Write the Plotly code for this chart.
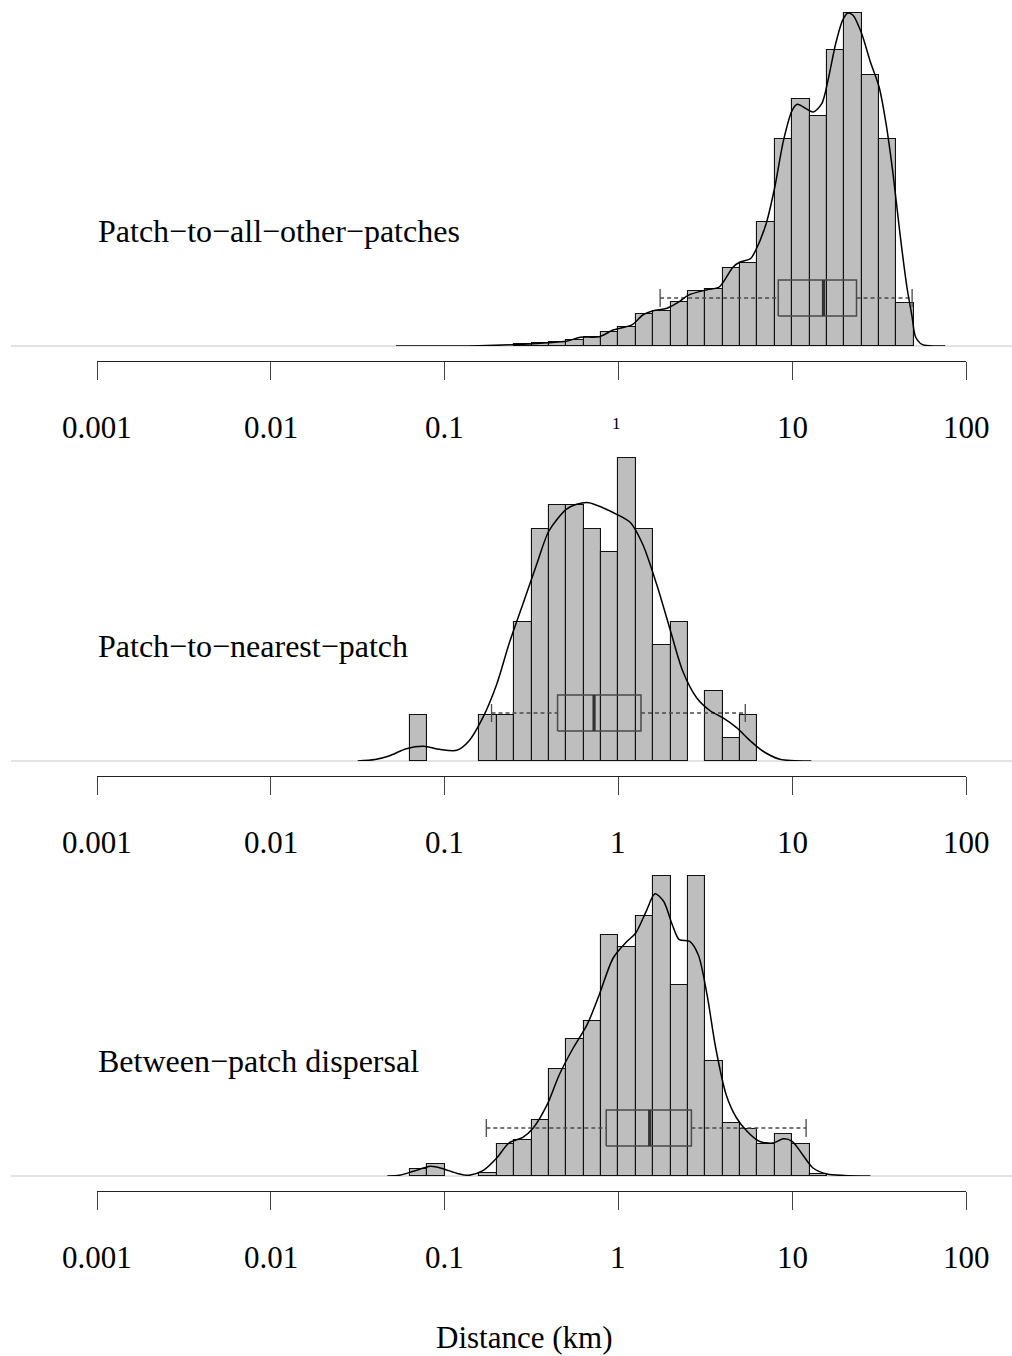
import plotly.graph_objects as go

# ---------------- data (x in log10 km; heights are relative frequencies) ----------------
BIN_WIDTH = 0.1

p1_first_bin = -0.6
p1_heights = [1.7, 3.3, 4.0, 6.0, 9.3, 14.0, 18.7, 32.3, 35.0, 44.0, 54.7, 57.3, 77.7, 83.3,
              123.7, 206.7, 246.7, 229.7, 296.3, 333.0, 271.3, 206.7, 43.0]

p2_first_bin = -1.2
p2_heights = [46, 0, 0, 0, 46, 46, 139, 232.3, 255.7, 255.7, 232.3, 209, 302.7, 232.3, 116, 139,
              0, 69.7, 22.7, 46]

p3_first_bin = -1.2
p3_heights = [7.3, 12.3, 0, 0, 3, 32, 36.3, 55.7, 107.3, 137.3, 155.3, 241, 229, 260, 300.3, 191,
              300.3, 114.7, 53, 47.3, 31.7, 42.3, 31.7, 1.7]

p1_dens_x = [-1.28, -0.80, -0.61, -0.41, -0.30, -0.22, -0.11, -0.03, 0.08, 0.14, 0.20, 0.28, 0.35,
             0.40, 0.51, 0.58, 0.66, 0.70, 0.76, 0.79, 0.85, 0.90, 0.95, 1.00, 1.03, 1.08, 1.12,
             1.17, 1.21, 1.25, 1.29, 1.32, 1.35, 1.40, 1.45, 1.50, 1.54, 1.58, 1.62, 1.66, 1.69,
             1.71, 1.75, 1.83, 1.88]
p1_dens_y = [0, 0.3, 1.3, 3.3, 4.7, 8.7, 9.3, 16, 21.3, 31, 35.3, 37.7, 44.3, 50.7, 56.3, 59, 79,
             84, 87.3, 95.7, 122.3, 159, 205.7, 235.7, 241.7, 237.3, 234, 242.3, 269, 302.3, 325.7,
             333, 330.7, 312.3, 284, 259, 222.3, 172.3, 112.3, 59, 29, 9, 1.3, 0, 0]

p2_dens_x = [-1.50, -1.40, -1.32, -1.22, -1.12, -1.03, -0.93, -0.86, -0.78, -0.70, -0.63, -0.55,
             -0.47, -0.40, -0.30, -0.24, -0.17, -0.09, -0.01, 0.07, 0.14, 0.22, 0.30, 0.37, 0.45,
             0.53, 0.60, 0.68, 0.76, 0.83, 0.93, 1.11]
p2_dens_y = [0, 1.5, 5, 12.3, 14.7, 11.7, 10.7, 20, 43.3, 76.7, 116.7, 156.7, 196.7, 230, 251.7,
             256.7, 258.3, 253.3, 246.7, 238.3, 216.7, 176.7, 130, 90, 63.3, 50, 43.3, 33.3, 20,
             10, 1.7, 0]

p3_dens_x = [-1.33, -1.26, -1.18, -1.08, -1.01, -0.93, -0.86, -0.78, -0.70, -0.63, -0.55, -0.49,
             -0.41, -0.34, -0.26, -0.18, -0.11, -0.03, 0.05, 0.10, 0.16, 0.21, 0.26, 0.31, 0.35,
             0.41, 0.46, 0.51, 0.56, 0.62, 0.68, 0.74, 0.81, 0.89, 0.95, 1.00, 1.06, 1.12, 1.20,
             1.30, 1.45]
p3_dens_y = [0, 0.7, 4.7, 9.7, 7.3, 2.7, 0.7, 5.3, 18, 33, 38.7, 48, 71.3, 101.3, 128, 151.3, 181.3,
             218, 234.7, 243, 264.7, 282.3, 274.7, 251.3, 236.3, 234.7, 221, 181.3, 128, 81.3, 58,
             44.7, 34.7, 33, 37.3, 34.7, 21.3, 8, 2, 0.5, 0]

# five-number summaries (log10 km): lower whisker, q1, median, q3, upper whisker
p1_box = [0.24, 0.92, 1.18, 1.37, 1.69]
p2_box = [-0.73, -0.35, -0.14, 0.13, 0.73]
p3_box = [-0.76, -0.07, 0.18, 0.42, 1.08]

panel_labels = ["Patch\u2212to\u2212all\u2212other\u2212patches",
                "Patch\u2212to\u2212nearest\u2212patch",
                "Between\u2212patch dispersal"]
tick_vals = [-3, -2, -1, 0, 1, 2]
tick_text = ["0.001", "0.01", "0.1", "1", "10", "100"]
x_title = "Distance (km)"

# ---------------- layout helpers ----------------
W, H = 1012, 1356
FONT = "Liberation Serif"
X0_PX, X1_PX = 97, 966
PANEL_SHIFT = 415
BASE_PX = 346      # baseline of first panel
AXIS_PX = 361      # axis line of first panel
PLOT_H = 346       # plot height (px) above baseline
TICKLAB_PX = 427
LABEL_PX = 231


def yp(px):
    return 1 - px / H


panels = [
    (p1_first_bin, p1_heights, p1_dens_x, p1_dens_y, p1_box),
    (p2_first_bin, p2_heights, p2_dens_x, p2_dens_y, p2_box),
    (p3_first_bin, p3_heights, p3_dens_x, p3_dens_y, p3_box),
]

fig = go.Figure()
annotations = []
shapes = []
BOX_C, BOX_HALF, STAPLE_HALF = 48, 18, 9
box_col = "#4a4a4a"

for i, (first, heights, dx, dy, box) in enumerate(panels):
    k = "" if i == 0 else str(i + 1)
    xa, ya = "x" + k, "y" + k
    off = i * PANEL_SHIFT
    base = BASE_PX + off

    centers = [first + BIN_WIDTH * (j + 0.5) for j in range(len(heights))]
    bx = [c for c, h in zip(centers, heights) if h > 0]
    by = [h for h in heights if h > 0]
    fig.add_trace(go.Bar(x=bx, y=by, width=BIN_WIDTH, xaxis=xa, yaxis=ya,
                         marker=dict(color="#bebebe", line=dict(color="#111111", width=1.1)),
                         showlegend=False, hoverinfo="skip"))

    lo, q1, med, q3, hi = box
    # dashed whiskers
    for a, b in [(lo, q1), (q3, hi)]:
        fig.add_trace(go.Scatter(x=[a, b], y=[BOX_C, BOX_C], mode="lines", xaxis=xa, yaxis=ya,
                                 line=dict(color=box_col, width=1.3, dash="4px,3px"),
                                 showlegend=False, hoverinfo="skip"))
    # staples
    for v in (lo, hi):
        fig.add_trace(go.Scatter(x=[v, v], y=[BOX_C - STAPLE_HALF, BOX_C + STAPLE_HALF],
                                 mode="lines", xaxis=xa, yaxis=ya,
                                 line=dict(color=box_col, width=1.3),
                                 showlegend=False, hoverinfo="skip"))
    # box
    fig.add_trace(go.Scatter(x=[q1, q3, q3, q1, q1],
                             y=[BOX_C - BOX_HALF, BOX_C - BOX_HALF, BOX_C + BOX_HALF,
                                BOX_C + BOX_HALF, BOX_C - BOX_HALF],
                             mode="lines", xaxis=xa, yaxis=ya,
                             line=dict(color=box_col, width=1.5),
                             showlegend=False, hoverinfo="skip"))
    # median
    fig.add_trace(go.Scatter(x=[med, med], y=[BOX_C - BOX_HALF, BOX_C + BOX_HALF],
                             mode="lines", xaxis=xa, yaxis=ya,
                             line=dict(color="#333333", width=3.2),
                             showlegend=False, hoverinfo="skip"))
    # density curve
    fig.add_trace(go.Scatter(x=dx, y=dy, mode="lines", xaxis=xa, yaxis=ya,
                             line=dict(color="black", width=1.5, shape="spline", smoothing=0.8),
                             showlegend=False, hoverinfo="skip"))

    dom = [X0_PX / W, X1_PX / W]
    fig.layout["xaxis" + k] = dict(
        domain=dom, range=[-3, 2], anchor="free", position=yp(AXIS_PX + off),
        showline=True, linecolor="#222222", linewidth=1, mirror=False,
        ticks="outside", ticklen=18, tickwidth=1, tickcolor="#444444",
        tickvals=tick_vals, showticklabels=False, showgrid=False, zeroline=False,
        fixedrange=True)
    fig.layout["yaxis" + k] = dict(
        domain=[yp(base), yp(base - PLOT_H)], range=[0, PLOT_H], visible=False,
        showgrid=False, zeroline=False, fixedrange=True)

    # gray baseline
    shapes.append(dict(type="line", xref="paper", yref="paper", x0=11 / W, x1=1.0,
                       y0=yp(base), y1=yp(base), line=dict(color="#c8c8c8", width=1.2),
                       layer="below"))

    # tick labels
    for v, t in zip(tick_vals, tick_text):
        if i == 0 and t == "1":
            annotations.append(dict(x=v - 0.01, y=yp(TICKLAB_PX - 3 + off), xref=xa, yref="paper",
                                    text=t, showarrow=False, xanchor="center", yanchor="middle",
                                    font=dict(family=FONT, size=17, color="black")))
        else:
            annotations.append(dict(x=v, y=yp(TICKLAB_PX + off), xref=xa, yref="paper", text=t,
                                    showarrow=False, xanchor="center", yanchor="middle",
                                    font=dict(family=FONT, size=31, color="black")))

    # panel label
    annotations.append(dict(x=96 / W, y=yp(LABEL_PX + off), xref="paper", yref="paper",
                            text=panel_labels[i], showarrow=False, xanchor="left",
                            yanchor="middle", font=dict(family=FONT, size=32, color="black")))

annotations.append(dict(x=524 / W, y=yp(1337), xref="paper", yref="paper", text=x_title,
                        showarrow=False, xanchor="center", yanchor="middle",
                        font=dict(family=FONT, size=31, color="black")))

fig.update_layout(width=W, height=H, margin=dict(l=0, r=0, t=0, b=0),
                  paper_bgcolor="white", plot_bgcolor="rgba(0,0,0,0)",
                  bargap=0, barmode="overlay", annotations=annotations, shapes=shapes,
                  font=dict(family=FONT))

fig.write_html("out.html")
